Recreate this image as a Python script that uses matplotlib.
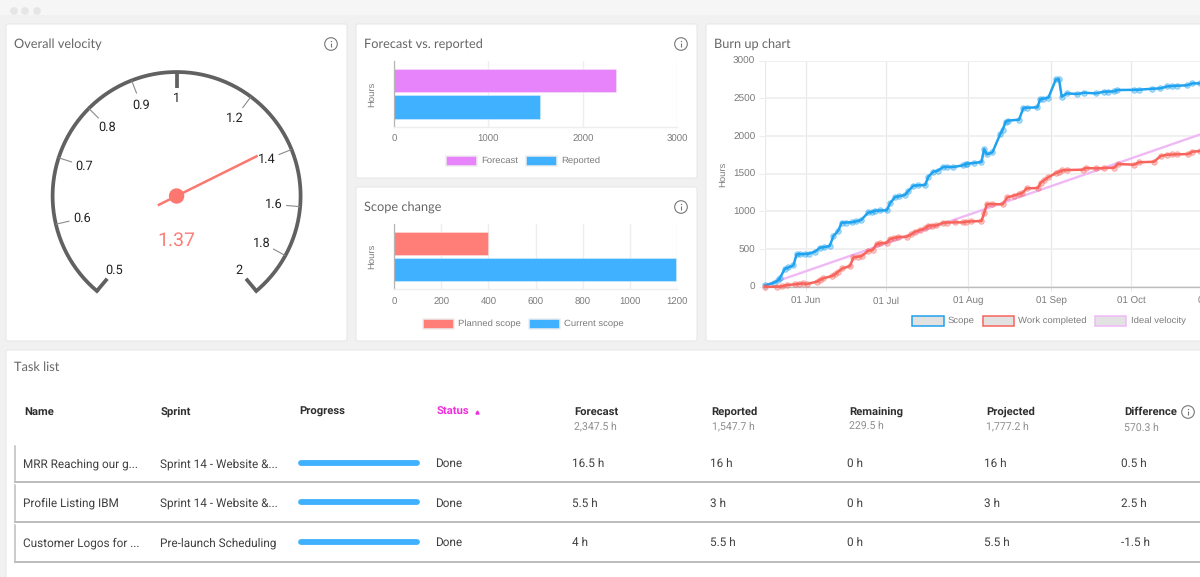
import numpy as np
import matplotlib
matplotlib.use("Agg")
import matplotlib.pyplot as plt
from matplotlib.patches import Circle, FancyBboxPatch, Rectangle

plt.rcParams["text.hinting"] = "none"

#DATA
gauge_ticks = [0.5, 0.6, 0.7, 0.8, 0.9, 1, 1.2, 1.4, 1.6, 1.8, 2]
gauge_value = 1.37

forecast_cats = ["Forecast", "Reported"]
forecast_vals = [2347.5, 1547.7]
scope_cats = ["Planned scope", "Current scope"]
scope_vals = [400, 1195]

#days are counted from 01 Jun
month_days = [0, 30, 61, 92, 122, 153]
month_labels = ["01 Jun", "01 Jul", "01 Aug", "01 Sep", "01 Oct", "01 Nov"]

scope_days = [-15.2, -12, -10.2, -9.6, -7.8, -6.5, -4.6, -3.4, -2.2, -0.2, 1.2, 3.5, 5.4, 7, 9, 10.4,
              12.2, 13.5, 15, 17.2, 19, 20.8, 23.5, 25, 26, 28, 30.4, 31.6, 33.5, 35, 37.2, 38.5,
              40.4, 42, 44.8, 46, 47.9, 49.5, 51.6, 53, 55.4, 58.8, 60, 60.6, 63, 65.9, 66.9, 67.9,
              70, 72.9, 73.8, 75, 76, 80, 81.6, 83, 86.9, 87.9, 89, 91, 93.8, 95, 96, 97.9, 101.9,
              104.4, 108.8, 111.9, 113.5, 115.6, 116.9, 123, 125, 130, 133, 135.6, 137.5, 139.4, 143, 145, 148]
scope_hours = [18, 50, 88, 120, 239, 255, 283, 429, 432, 434, 438, 465, 518, 525, 540, 672,
               743, 850, 852, 854, 868, 885, 987, 992, 1009, 1012, 1013, 1106, 1190, 1200, 1217, 1270,
               1341, 1345, 1350, 1460, 1527, 1540, 1589, 1590, 1589, 1610, 1625, 1633, 1642, 1655, 1827, 1757,
               1783, 2022, 2080, 2190, 2205, 2217, 2372, 2376, 2381, 2491, 2495, 2509, 2752, 2752, 2522, 2566, 2558,
               2575, 2566, 2589, 2590, 2593, 2611, 2613, 2615, 2628, 2633, 2659, 2664, 2668, 2673, 2699, 2699]

done_days = [-15.2, -10.9, -9, -7, -4, -2.5, -0.9, 0.4, 4.1, 5.2, 6.6, 9.8, 11, 12.2, 13.8, 16.6, 17.9,
             19.5, 21, 23.5, 25.1, 26.6, 28, 30.4, 31.6, 33, 34.8, 37.9, 39.5, 41, 42.8, 44.8, 46, 47.5, 49,
             51.6, 53, 56, 58.8, 60.2, 61.9, 65.9, 66.9, 67.9, 70, 73.8, 75.6, 78, 80, 81.2, 82.9, 87.1, 88.1,
             89.5, 90.9, 93.8, 95, 96.2, 98.1, 103.8, 105, 108.8, 112, 115.6, 117.1, 123.1, 125, 130.6, 133.1,
             135.6, 137.5, 139.4, 143.4, 145, 148]
done_hours = [0, 0, 4, 22, 31, 38, 44, 35, 66, 88, 111, 142, 165, 199, 243, 274, 389,
              398, 407, 478, 487, 566, 575, 584, 633, 645, 659, 664, 695, 730, 750, 774, 810, 812, 814,
              850, 852, 854, 854, 862, 867, 872, 973, 1093, 1097, 1093, 1186, 1208, 1230, 1243, 1305, 1310, 1381,
              1415, 1451, 1509, 1525, 1544, 1549, 1553, 1575, 1571, 1575, 1580, 1628, 1620, 1651, 1659, 1735,
              1752, 1755, 1757, 1761, 1792, 1801]

ideal_days = [-15.2, 148]
ideal_hours = [18, 2022]

table_columns = ["Name", "Sprint", "Progress", "Status", "Forecast", "Reported", "Remaining", "Projected", "Difference"]
table_totals = ["", "", "", "", "2,347.5 h", "1,547.7 h", "229.5 h", "1,777.2 h", "570.3 h"]
task_names = ["MRR Reaching our g...", "Profile Listing IBM", "Customer Logos for ..."]
task_sprints = ["Sprint 14 - Website &...", "Sprint 14 - Website &...", "Pre-launch Scheduling"]
task_status = ["Done", "Done", "Done"]
task_forecast = ["16.5 h", "5.5 h", "4 h"]
task_reported = ["16 h", "3 h", "5.5 h"]
task_remaining = ["0 h", "0 h", "0 h"]
task_projected = ["16 h", "3 h", "5.5 h"]
task_difference = ["0.5 h", "2.5 h", "-1.5 h"]

#COLOURS
BG = "#f1f1f1"
BLUE = "#40b1ff"
MAGENTA = "#e783fb"
RED = "#ff7f78"
LINE_BLUE = "#1fa2ef"
LINE_RED = "#f8645c"
LINE_IDEAL = "#efb9f6"
GAUGE = "#616161"
GRID = "#eeeeee"
TICK_TEXT = "#7b7b7b"
TITLE_TEXT = "#666666"
TEXT = "#404040"

W, H = 1200, 577
HELV = "Liberation Sans"
TITLE_FONT = "Lato"
TABLE_FONT = "Roboto"

fig = plt.figure(figsize=(W / 100, H / 100), dpi=100, facecolor=BG)

#page layer works in screen pixels
page = fig.add_axes([0, 0, 1, 1], zorder=0)
page.set_xlim(0, W)
page.set_ylim(H, 0)
page.axis("off")


def px_axes(x0, y0, x1, y1, **kw):
    """Axes placed by pixel box, y counted from the top."""
    ax = fig.add_axes([x0 / W, 1 - y1 / H, (x1 - x0) / W, (y1 - y0) / H], zorder=2, **kw)
    ax.patch.set_alpha(0)
    return ax


def card(x0, y0, x1, y1):
    page.add_patch(FancyBboxPatch((x0 + 1, y0 + 1), x1 - x0 - 2, y1 - y0 - 2,
                                  boxstyle="round,pad=1,rounding_size=2",
                                  fc="white", ec="#e8e8e8", lw=0.8, zorder=1))


def title(x, y, label):
    page.text(x, y, label, family=TITLE_FONT, fontsize=9.2, color=TITLE_TEXT,
              va="center", ha="left", zorder=3)


def info_icon(x, y, r=6.3):
    page.add_patch(Circle((x, y), r, fc="none", ec="#777777", lw=0.8, zorder=3))
    page.plot([x, x], [y - 0.6, y + 3.2], color="#777777", lw=0.8, zorder=3, solid_capstyle="butt")
    page.plot([x], [y - 3], "o", ms=1.0, mew=0, color="#777777", zorder=3)


def legend_box(x0, x1, y, label, text_x, fc, ec):
    page.add_patch(Rectangle((x0, y - 5), x1 - x0, 10, fc=fc, ec=ec, lw=1.1, zorder=3))
    page.text(text_x, y, label, family=HELV, fontsize=6.8, color=TICK_TEXT,
              va="center", ha="left", zorder=3)


#WINDOW CHROME AND CARDS
page.add_patch(Rectangle((0, 0), W, 15, fc="#f6f6f6", ec="none", zorder=0.5))
for dot_x in [14, 25, 37]:
    page.add_patch(Circle((dot_x, 11), 3.9, fc="#e6e6e6", ec="none", zorder=1))

card(6, 24, 347, 341)
card(356, 24, 697, 178)
card(356, 187, 697, 341)
card(706, 24, 1215, 341)
card(6, 350, 1215, 590)

title(14, 44, "Overall velocity")
title(364, 44, "Forecast vs. reported")
title(364, 207, "Scope change")
title(714.5, 44, "Burn up chart")
title(14, 367, "Task list")
info_icon(331, 44)
info_icon(681, 44)
info_icon(681, 207)

#GAUGE, 1 px = 1 data unit around the hub, angle follows log2 of the value
gauge = px_axes(40, 60, 313, 300)
gauge.set_xlim(40 - 176.6, 313 - 176.6)
gauge.set_ylim(196 - 300, 196 - 60)
gauge.axis("off")


def gauge_xy(value, radius):
    angle = np.radians(140 * np.log2(value))
    return radius * np.sin(angle), radius * np.cos(angle)


arc_vals = np.geomspace(gauge_ticks[0], gauge_ticks[-1], 200)
arc_x, arc_y = gauge_xy(arc_vals, 124)
gauge.plot(arc_x, arc_y, color=GAUGE, lw=2.7, solid_capstyle="projecting")

for tick in gauge_ticks:
    heavy = tick in (0.5, 1, 2)
    inner = 108 if heavy else 110
    tx0, ty0 = gauge_xy(tick, 124)
    tx1, ty1 = gauge_xy(tick, inner)
    gauge.plot([tx0, tx1], [ty0, ty1], color=GAUGE if heavy else "#8a8a8a",
               lw=2.7 if heavy else 0.8, solid_capstyle="butt")
    lx, ly = gauge_xy(tick, 97.5)
    gauge.text(lx, ly, f"{tick:g}", family=TABLE_FONT, fontsize=9.2, color="#222222",
               ha="center", va="center")

#needle with its short tail
nx, ny = gauge_xy(gauge_value, 90.5)
bx, by = gauge_xy(gauge_value, -21)
gauge.plot([bx, nx], [by, ny], color="#fb7770", lw=1.8, solid_capstyle="butt")
gauge.add_patch(Circle((0, 0), 7.7, fc="#fb7770", ec="none", zorder=4))
gauge.text(0, -44.7, f"{gauge_value:g}", family=TABLE_FONT, fontsize=14, color="#fb7f78",
           ha="center", va="center")


#BAR CHARTS
def hbar_panel(box, cats, vals, colors, xmax, ticks, ylabel_y):
    ax = px_axes(*box)
    ax.barh(range(len(cats)), vals, height=0.89, color=colors, edgecolor="#ffffff60", lw=0.6, zorder=2)
    ax.set_xlim(0, xmax)
    ax.set_ylim(1.75, -0.76)
    ax.set_xticks(ticks)
    ax.set_yticks([])
    ax.grid(axis="x", color=GRID, lw=1, zorder=0)
    for side in ["top", "right"]:
        ax.spines[side].set_visible(False)
    ax.spines["bottom"].set_color(GRID)
    ax.spines["bottom"].set_linewidth(1)
    ax.spines["left"].set_color("#b5b5b5")
    ax.spines["left"].set_linewidth(0.9)
    ax.tick_params(axis="x", length=0, pad=6, labelsize=6.9, labelcolor=TICK_TEXT)
    for label in ax.get_xticklabels():
        label.set_family(HELV)
    page.text(372.3, ylabel_y, "Hours", family=HELV, fontsize=6.8, color=TICK_TEXT,
              rotation=90, ha="center", va="center", zorder=3)
    return ax


hbar_panel((394, 60.7, 677.3, 126.7), forecast_cats, forecast_vals, [MAGENTA, BLUE],
           3000, [0, 1000, 2000, 3000], 94)
hbar_panel((394, 224, 677.3, 289.3), scope_cats, scope_vals, [RED, BLUE],
           1200, [0, 200, 400, 600, 800, 1000, 1200], 256)

legend_box(445.5, 477, 160.7, forecast_cats[0], 481.7, MAGENTA, "#eeeeee")
legend_box(525.5, 557, 160.7, forecast_cats[1], 561.7, BLUE, "#eeeeee")
legend_box(422.5, 454, 323.7, scope_cats[0], 458.3, RED, "#eeeeee")
legend_box(528.5, 560, 323.7, scope_cats[1], 564, BLUE, "#eeeeee")

#BURN UP CHART, axes run past the screenshot edge like the original
px_per_day = 2.667
burn = px_axes(765, 60.7, 1240, 286.7)
burn.set_xlim(-15.25, (1240 - 805.7) / px_per_day)
burn.set_ylim(0, 3000)
burn.set_yticks(range(0, 3001, 500))
burn.set_xticks([-15.25] + month_days)
burn.set_xticklabels([""] + month_labels)
burn.grid(axis="y", color=GRID, lw=1.2, zorder=0)
burn.grid(axis="x", color="#e8e8e8", lw=0.9, zorder=0)
for side in ["top", "right", "left"]:
    burn.spines[side].set_visible(False)
burn.spines["bottom"].set_color("#bdbdbd")
burn.spines["bottom"].set_linewidth(1)
burn.tick_params(axis="y", length=4, color=GRID, pad=3, labelsize=7.2, labelcolor=TICK_TEXT)
burn.tick_params(axis="x", length=3, color="#e8e8e8", pad=4, labelsize=7, labelcolor=TICK_TEXT)
for label in burn.get_xticklabels() + burn.get_yticklabels():
    label.set_family(HELV)

burn.plot(ideal_days, ideal_hours, color=LINE_IDEAL, lw=1.7, zorder=2, clip_on=False)
burn.plot(scope_days, scope_hours, color=LINE_BLUE, lw=1.8, zorder=4, clip_on=False,
          marker="o", ms=4, mfc=LINE_BLUE + "60", mec=LINE_BLUE + "70", mew=0.7)
burn.plot(done_days, done_hours, color=LINE_RED, lw=1.8, zorder=5, clip_on=False,
          marker="o", ms=4, mfc=LINE_RED + "60", mec=LINE_RED + "70", mew=0.7)

page.text(723.3, 174, "Hours", family=HELV, fontsize=6.8, color=TICK_TEXT,
          rotation=90, ha="center", va="center", zorder=3)
legend_box(912, 944, 321, "Scope", 948, "#e2e2e2", LINE_BLUE)
legend_box(982.5, 1014, 321, "Work completed", 1018.3, "#e2e2e2", LINE_RED)
legend_box(1094.5, 1126, 321, "Ideal velocity", 1130.7, "#e2e2e2", LINE_IDEAL)

#TASK TABLE
header_x = [24, 161, 299, 436.5, 574, 711.5, 849, 986.5, 1124]
cell_x = [23, 160.5, 298, 435, 572.5, 709.5, 847, 984.5, 1121]
row_text_y = [464, 503.3, 543]
row_top = [444.5, 484, 524]
row_bottom = [481.8, 522, 562]

for col, name in enumerate(table_columns):
    color = "#ee2fdc" if name == "Status" else "#2f2f2f"
    page.text(header_x[col], 412, name, family=TABLE_FONT, fontsize=8.1, weight="bold",
              color=color, va="center", ha="left", zorder=3)
    if table_totals[col]:
        total_y = 427.7 if name == "Difference" else 426
        page.text(header_x[col], total_y, table_totals[col], family=TABLE_FONT, fontsize=7.6,
                  color="#8f8f8f", va="center", ha="left", zorder=3)
page.plot([477.3], [412], marker="^", ms=2.2, color="#ee2fdc", zorder=3)
info_icon(1188, 412)

for top, bottom in zip(row_top, row_bottom):
    page.plot([14.7, 14.7], [top + 1, bottom - 1], color="#bdbdbd", lw=1.1, zorder=2)
    page.plot([15, 1215], [bottom, bottom], color="#bdbdbd", lw=1.4, zorder=2)

row_columns = [task_names, task_sprints, None, task_status, task_forecast, task_reported,
               task_remaining, task_projected, task_difference]
for col, cells in enumerate(row_columns):
    if cells is None:
        continue
    for row, cell in enumerate(cells):
        page.text(cell_x[col], row_text_y[row], cell, family=TABLE_FONT, fontsize=8.5, color=TEXT,
                  va="center", ha="left", zorder=3)

for y in row_text_y:
    page.plot([300.5, 416.5], [y - 1, y - 1], color=BLUE, lw=4.2, solid_capstyle="round", zorder=3)

plt.savefig("out.png", dpi=100, facecolor=BG)
